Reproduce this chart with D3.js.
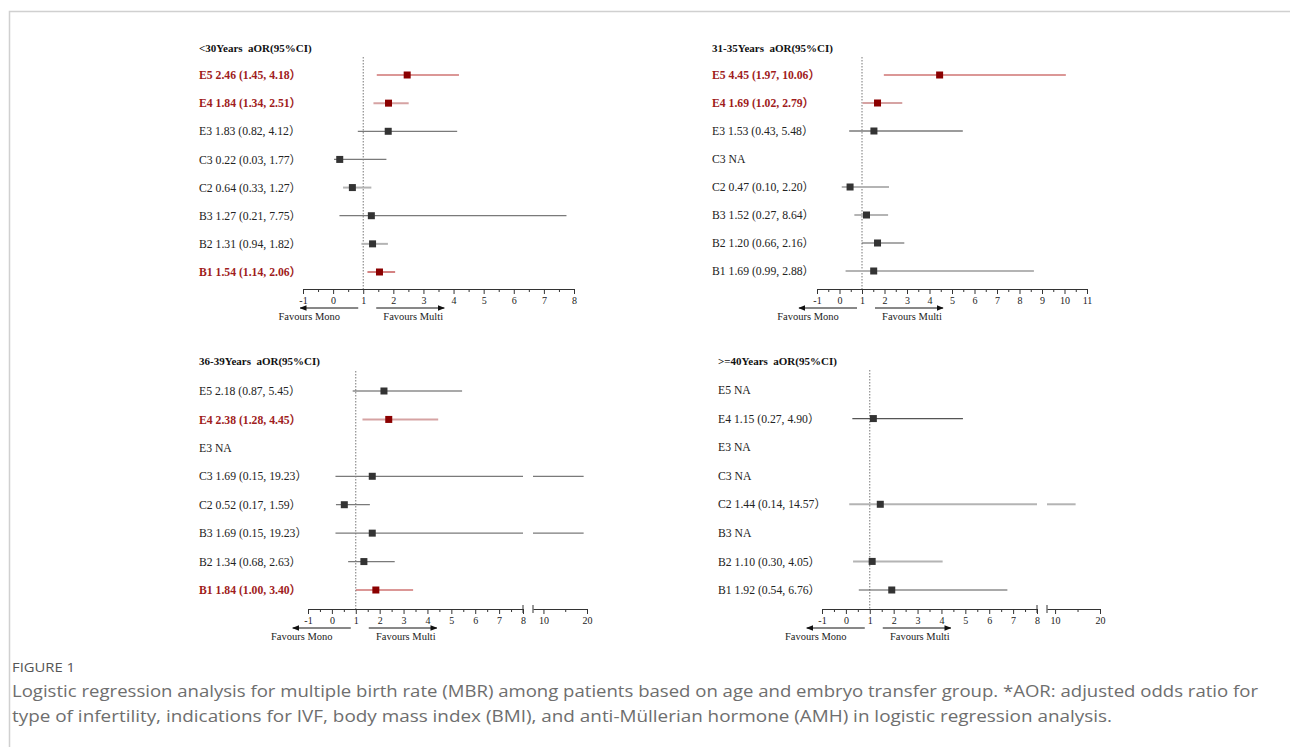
<!DOCTYPE html>
<html><head><meta charset="utf-8">
<script src="https://cdn.jsdelivr.net/npm/d3@7"></script>
<style>body{margin:0;background:#fff} svg{display:block} text{white-space:pre}</style>
</head><body>
<script>
// ---------------- DATA ----------------
const groups = ["E5","E4","E3","C3","C2","B3","B2","B1"];
const panelTitles = ["<30Years  aOR(95%CI)", "31-35Years  aOR(95%CI)", "36-39Years  aOR(95%CI)", ">=40Years  aOR(95%CI)"];

const labels30   = ["2.46 (1.45, 4.18）","1.84 (1.34, 2.51）","1.83 (0.82, 4.12）","0.22 (0.03, 1.77）","0.64 (0.33, 1.27）","1.27 (0.21, 7.75）","1.31 (0.94, 1.82）","1.54 (1.14, 2.06）"];
const labels3135 = ["4.45 (1.97, 10.06）","1.69 (1.02, 2.79）","1.53 (0.43, 5.48）","NA","0.47 (0.10, 2.20）","1.52 (0.27, 8.64）","1.20 (0.66, 2.16）","1.69 (0.99, 2.88）"];
const labels3639 = ["2.18 (0.87, 5.45）","2.38 (1.28, 4.45）","NA","1.69 (0.15, 19.23）","0.52 (0.17, 1.59）","1.69 (0.15, 19.23）","1.34 (0.68, 2.63）","1.84 (1.00, 3.40）"];
const labels40   = ["NA","1.15 (0.27, 4.90）","NA","NA","1.44 (0.14, 14.57）","NA","1.10 (0.30, 4.05）","1.92 (0.54, 6.76）"];

const signif30   = [1,1,0,0,0,0,0,1];
const signif3135 = [1,1,0,0,0,0,0,0];
const signif3639 = [0,1,0,0,0,0,0,1];
const signif40   = [0,0,0,0,0,0,0,0];

// plotted values (as drawn in the figure)
const est30 = [2.46,1.84,1.83,0.22,0.64,1.27,1.31,1.54];
const lo30  = [1.45,1.34,0.82,0.03,0.33,0.21,0.94,1.14];
const hi30  = [4.18,2.51,4.12,1.77,1.27,7.75,1.82,2.06];
const est3135 = [4.45,1.69,1.53,null,0.47,1.20,1.69,1.52];
const lo3135  = [1.97,1.02,0.43,null,0.10,0.66,0.99,0.27];
const hi3135  = [10.06,2.79,5.48,null,2.20,2.16,2.88,8.64];
const est3639 = [2.18,2.38,null,1.69,0.52,1.69,1.34,1.84];
const lo3639  = [0.87,1.28,null,0.15,0.17,0.15,0.68,1.00];
const hi3639  = [5.45,4.45,null,19.23,1.59,19.23,2.63,3.40];
const est40 = [null,1.15,null,null,1.44,null,1.10,1.92];
const lo40  = [null,0.27,null,null,0.14,null,0.30,0.54];
const hi40  = [null,4.90,null,null,14.57,null,4.05,6.76];

const ticks8  = [-1,0,1,2,3,4,5,6,7,8];
const ticks11 = [-1,0,1,2,3,4,5,6,7,8,9,10,11];
const ticksBreak = [10,20];
const minorBreak = [15];

const captionHead = "FIGURE 1";
const captionLines = [
  "Logistic regression analysis for multiple birth rate (MBR) among patients based on age and embryo transfer group. *AOR: adjusted odds ratio for",
  "type of infertility, indications for IVF, body mass index (BMI), and anti-Müllerian hormone (AMH) in logistic regression analysis."
];

// ---------------- STYLE / LAYOUT ----------------
const RED_TXT = "#a01c1c", RED_PT = "#8b0000";
const tone = {
  r:  {c:"#b8302f", w:1.2},
  p:  {c:"#d6a3a3", w:2},
  d:  {c:"#555", w:1.2},
  m:  {c:"#7a7a7a", w:1.3},
  l:  {c:"#b4b4b4", w:2}
};
const tones30   = ["r","p","m","m","l","m","l","r"];
const tones3135 = ["r","p","m","m","l","l","d","l"];
const tones3639 = ["d","p","m","m","m","m","m","r"];
const tones40   = ["d","d","d","l","l","l","l","d"];

const panels = [
  {title:panelTitles[0], labels:labels30, sig:signif30, est:est30, lo:lo30, hi:hi30, tones:tones30,
   lx:199, ty:48, row0:75, row1:272, axisY:289, dotTop:57, dom:[-1,8], rng:[303,574], ticks:ticks8},
  {title:panelTitles[1], labels:labels3135, sig:signif3135, est:est3135, lo:lo3135, hi:hi3135, tones:tones3135,
   lx:712, ty:48, row0:75, row1:271, axisY:289, dotTop:57, dom:[-1,11], rng:[817,1087], ticks:ticks11},
  {title:panelTitles[2], labels:labels3639, sig:signif3639, est:est3639, lo:lo3639, hi:hi3639, tones:tones3639,
   lx:199, ty:361, row0:391, row1:590, axisY:609, dotTop:371, dom:[-1,8], rng:[308,523], ticks:ticks8,
   brk:{dom:[7.6,20], rng:[533,587]}},
  {title:panelTitles[3], labels:labels40, sig:signif40, est:est40, lo:lo40, hi:hi40, tones:tones40,
   lx:718, ty:361, row0:390, row1:590, axisY:609, dotTop:370, dom:[-1,8], rng:[822,1037], ticks:ticks8,
   brk:{dom:[8.2,20], rng:[1047,1100]}}
];

const W = 1290, H = 747;
const svg = d3.select("body").append("svg").attr("width", W).attr("height", H);
svg.append("rect").attr("width", W).attr("height", H).attr("fill", "#fff");

// frame
svg.append("path").attr("d", `M9.5,${H} L9.5,11.5 L${W},11.5`).attr("fill","none").attr("stroke","#d0d0d0").attr("stroke-width",1.5);

const defs = svg.append("defs");
defs.append("marker").attr("id","arr").attr("viewBox","0 0 10 10").attr("refX",9).attr("refY",5)
  .attr("markerWidth",7).attr("markerHeight",7).attr("markerUnits","userSpaceOnUse").attr("orient","auto")
  .append("path").attr("d","M0,1 L10,5 L0,9 Z").attr("fill","#111");

const SERIF = "'Liberation Serif','Times New Roman','Noto Sans CJK SC',serif";

panels.forEach(p => {
  const g = svg.append("g");
  const x1 = d3.scaleLinear().domain(p.dom).range(p.rng);
  const x2 = p.brk ? d3.scaleLinear().domain(p.brk.dom).range(p.brk.rng) : null;
  const xv = v => (x2 && v > p.dom[1]) ? x2(v) : x1(v);
  const y = d3.scalePoint().domain(groups).range([p.row0, p.row1]);

  // title
  g.append("text").attr("x", p.lx).attr("y", p.ty).attr("dy","0.35em")
    .attr("font-family", SERIF).attr("font-weight","bold").attr("font-size", 11).attr("fill","#111")
    .text(p.title);

  // labels
  groups.forEach((grp,i) => {
    g.append("text").attr("x", p.lx).attr("y", y(grp)).attr("dy","0.35em")
      .attr("font-family", SERIF).attr("font-size", 11.7)
      .attr("font-weight", p.sig[i] ? "bold" : "normal")
      .attr("fill", p.sig[i] ? RED_TXT : "#222")
      .text(grp + " " + p.labels[i]);
  });

  // reference line at 1
  g.append("line").attr("x1", x1(1)).attr("x2", x1(1)).attr("y1", p.dotTop).attr("y2", p.axisY)
    .attr("stroke","#777").attr("stroke-width",1).attr("stroke-dasharray","1.5,1.5");

  // CI lines + points
  groups.forEach((grp,i) => {
    if (p.est[i] == null) return;
    const t = tone[p.tones[i]];
    const yy = y(grp);
    const segs = [];
    if (x2 && p.hi[i] > p.dom[1]) {
      segs.push([x1(p.lo[i]), x1(p.dom[1])]);
      segs.push([x2.range()[0], x2(p.hi[i])]);
    } else segs.push([xv(p.lo[i]), xv(p.hi[i])]);
    segs.forEach(s => g.append("line").attr("x1", s[0]).attr("x2", s[1]).attr("y1", yy).attr("y2", yy)
      .attr("stroke", t.c).attr("stroke-width", t.w));
    g.append("rect").attr("x", xv(p.est[i]) - 3.5).attr("y", yy - 3.5).attr("width", 7).attr("height", 7)
      .attr("fill", p.sig[i] ? RED_PT : "#333");
  });

  // axis
  const fmt = d => String(d);
  const major = d3.axisBottom(x1).tickValues(p.ticks).tickSize(5).tickSizeOuter(0).tickFormat(fmt);
  const minorVals = p.ticks.slice(0,-1).map(d => d + 0.5);
  const minor = d3.axisBottom(x1).tickValues(minorVals).tickSize(3).tickSizeOuter(0).tickFormat("");
  const ax = g.append("g").attr("transform", `translate(0,${p.axisY})`);
  ax.append("g").call(minor).call(a => a.select(".domain").remove());
  ax.append("g").call(major);
  if (x2) {
    ax.append("g").call(d3.axisBottom(x2).tickValues(minorBreak).tickSize(3).tickSizeOuter(0).tickFormat(""))
      .call(a => a.select(".domain").remove());
    ax.append("g").call(d3.axisBottom(x2).tickValues(ticksBreak).tickSize(5).tickSizeOuter(0).tickFormat(fmt));
    [x1(p.dom[1]), x2.range()[0]].forEach(bx => ax.append("line").attr("x1", bx).attr("x2", bx)
      .attr("y1", -4).attr("y2", 4).attr("stroke","#333").attr("stroke-width",1));
  }
  ax.selectAll("text").attr("font-family", SERIF).attr("font-size", 10).attr("fill","#222");
  ax.selectAll(".domain, .tick line").attr("stroke","#333");

  // favours arrows
  const c = x1(1), ay = p.axisY + 19;
  g.append("line").attr("x1", c - 5).attr("x2", c - 63).attr("y1", ay).attr("y2", ay)
    .attr("stroke","#111").attr("stroke-width",1).attr("marker-end","url(#arr)");
  g.append("line").attr("x1", c + 13).attr("x2", c + 81).attr("y1", ay).attr("y2", ay)
    .attr("stroke","#111").attr("stroke-width",1).attr("marker-end","url(#arr)");
  g.append("text").attr("x", c - 54).attr("y", p.axisY + 27).attr("dy","0.35em").attr("text-anchor","middle")
    .attr("font-family", SERIF).attr("font-size", 10.5).attr("fill","#222").text("Favours Mono");
  g.append("text").attr("x", c + 50).attr("y", p.axisY + 27).attr("dy","0.35em").attr("text-anchor","middle")
    .attr("font-family", SERIF).attr("font-size", 10.5).attr("fill","#222").text("Favours Multi");
});

// caption
const SANS = "'Open Sans','Noto Sans',sans-serif";
svg.append("text").attr("x", 12).attr("y", 672).attr("font-family", SANS).attr("font-size", 12.5)
  .attr("fill","#555").attr("textLength", 63).attr("lengthAdjust","spacingAndGlyphs").text(captionHead);
const capW = [1246, 1100];
captionLines.forEach((t,i) => {
  const el = svg.append("text").attr("x", 12).attr("y", 697 + i*24.5).attr("font-family", SANS)
    .attr("font-size", 15.5).attr("fill","#6e6e6e").text(t);
  const w = el.node().getComputedTextLength();
  if (Math.abs(w - capW[i]) > 4) el.attr("textLength", capW[i]).attr("lengthAdjust","spacingAndGlyphs");
});
</script>
</body></html>
